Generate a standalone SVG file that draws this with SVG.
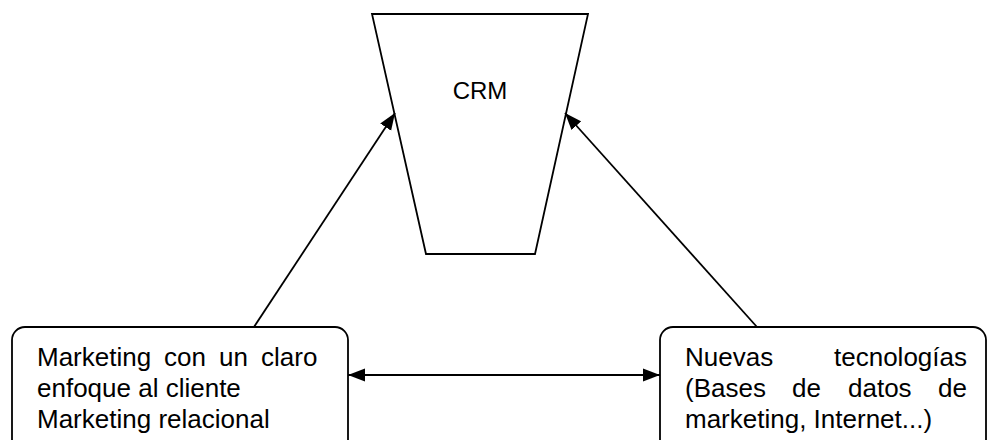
<svg xmlns="http://www.w3.org/2000/svg" width="988" height="440" viewBox="0 0 988 440">
<style>
.shape{fill:#fff;stroke:#000;stroke-width:1.8}
.conn{fill:none;stroke:#000;stroke-width:1.8}
.t{font-family:"Liberation Sans",Arial,sans-serif;font-size:26px;fill:#000}
.crm{font-family:"Liberation Sans",Arial,sans-serif;font-size:24px;fill:#000}
</style>
<defs>
<marker id="ah" markerUnits="userSpaceOnUse" markerWidth="17" markerHeight="14" refX="17" refY="7" orient="auto-start-reverse" viewBox="0 0 17 14">
<path d="M0,0.5 L17,7 L0,13.5 z" fill="#000"/>
</marker>
</defs>
<rect width="988" height="440" fill="#fff"/>
<g id="crm">
<polygon class="shape" points="372,14 588,14 535,254 426,254"/>
<text class="crm" x="480" y="99" text-anchor="middle">CRM</text>
</g>
<g id="marketing">
<rect class="shape" x="12" y="327" width="336" height="130" rx="13" ry="13"/>
<text class="t" y="366"><tspan x="37">Marketing</tspan><tspan x="164">con</tspan><tspan x="219">un</tspan><tspan x="261">claro</tspan></text>
<text class="t" x="37" y="397">enfoque al cliente</text>
<text class="t" x="37" y="428">Marketing relacional</text>
</g>
<g id="tecnologias">
<rect class="shape" x="660" y="327" width="326" height="130" rx="13" ry="13"/>
<text class="t" y="366"><tspan x="685">Nuevas</tspan></text>
<text class="t" x="967" y="366" text-anchor="end">tecnologías</text>
<text class="t" y="397"><tspan x="685">(Bases</tspan><tspan x="792">de</tspan><tspan x="848">datos</tspan></text>
<text class="t" x="967" y="397" text-anchor="end">de</text>
<text class="t" x="685" y="428">marketing, Internet...)</text>
</g>
<g id="connectors">
<line class="conn" x1="254" y1="327" x2="395" y2="113" marker-end="url(#ah)"/>
<line class="conn" x1="757" y1="327" x2="565" y2="113" marker-end="url(#ah)"/>
<line class="conn" x1="348" y1="375" x2="660" y2="375" marker-start="url(#ah)" marker-end="url(#ah)"/>
</g>
</svg>
